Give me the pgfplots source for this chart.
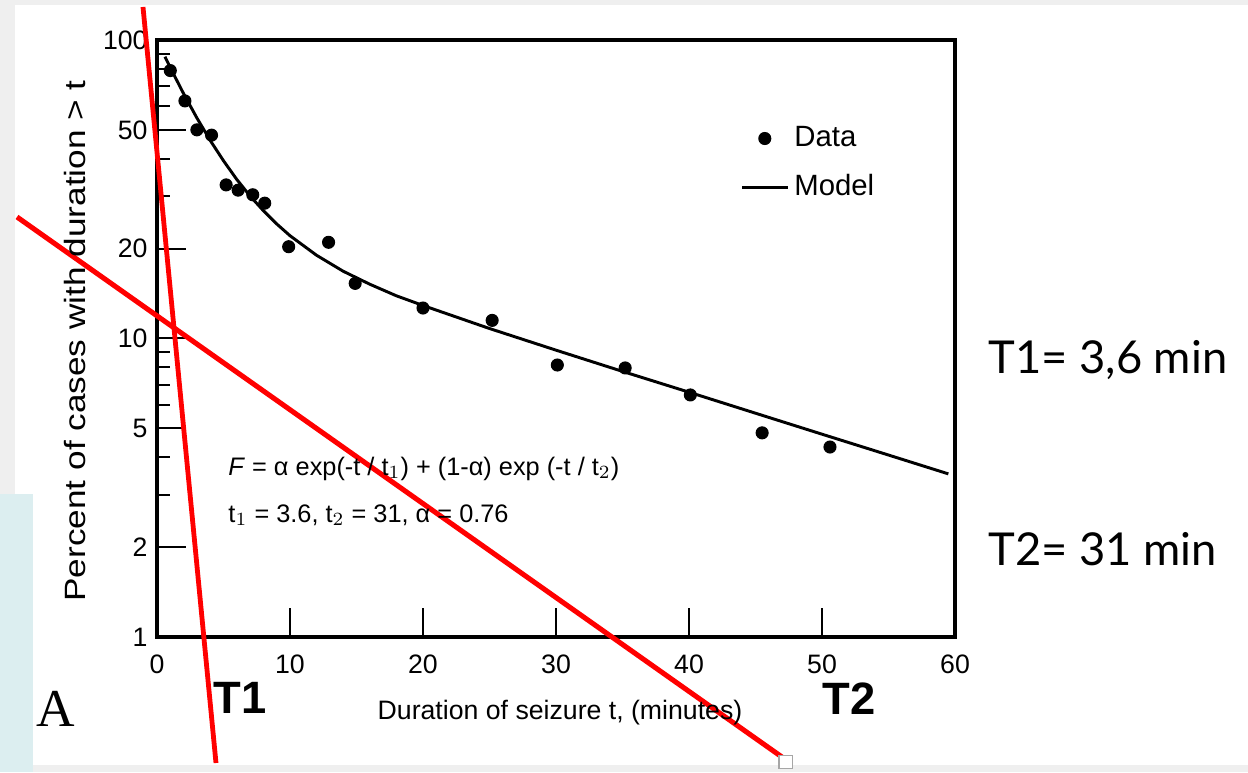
\documentclass[border=0pt]{standalone}
\usepackage{fontspec}
\usepackage{pgfplots}
\pgfplotsset{compat=1.18}
\setmainfont{Liberation Sans}
\newfontfamily\widesans[FakeStretch=1.2]{Liberation Sans}
\newfontfamily\slidefont{Lato}
\newfontfamily\serifA{Liberation Serif}
\definecolor{bgGray}{HTML}{EFEFEF}
\definecolor{bgTeal}{HTML}{DCEEF0}

\begin{document}
\begin{tikzpicture}
% slide background (1 px = 0.375 pt, origin at axis lower-left corner)
\fill[bgGray] (-58.875pt,-50.625pt) rectangle (409.125pt,238.875pt);
\fill[bgTeal] (-58.875pt,-50.625pt) rectangle (-46.5pt,53.6pt);
\fill[white] (-53.25pt,53.6pt) rectangle (409.125pt,237pt);
\fill[white] (-46.5pt,-48pt) rectangle (409.125pt,53.7pt);

\begin{axis}[
    scale only axis,
    width=299.25pt, height=223.875pt,
    xmin=0, xmax=60,
    ymode=log, ymin=1, ymax=100,
    xtick={0,10,20,30,40,50,60},
    ytick={1,2,5,10,20,50,100},
    yticklabels={1,2,5,10,20,50,100},
    minor ytick={3,4,6,7,8,9,30,40,60,70,80,90},
    xtick pos=left, ytick pos=left,
    tick align=inside,
    major tick length=11pt,
    minor tick length=5pt,
    tick style={line width=0.75pt, black},
    axis line style={line width=1.4pt},
    /pgf/number format/assume math mode=true,
    tick label style={font=\fontsize{10}{12}\selectfont},
    xticklabel style={yshift=-3pt},
    xlabel={Duration of seizure t, (minutes)},
    ylabel={Percent of cases with duration > t},
    xlabel style={at={(axis description cs:0.505,-0.127)}, anchor=center,
        font=\fontsize{10}{12}\selectfont},
    ylabel style={at={(axis description cs:-0.1028,0.496)}, anchor=center,
        font=\widesans\fontsize{11}{13}\selectfont},
    clip=false,
    legend style={draw=none, fill=none, at={(axis description cs:0.7206,0.874)},
        anchor=north west, row sep=5pt, font=\fontsize{11}{13}\selectfont},
    legend cell align=left,
]
\addplot[only marks, mark=*, mark size=2.25pt, black] coordinates {
    (1,79) (2.1,62.5) (3,50) (4.1,48) (5.2,32.7) (6.1,31.4) (7.2,30.3)
    (8.1,28.4) (9.9,20.3) (12.9,21.0) (14.9,15.3) (20,12.65) (25.2,11.5)
    (30.1,8.15) (35.2,7.97) (40.1,6.47) (45.5,4.83) (50.6,4.33)
};
\addlegendentry{Data}
\addplot[black, line width=1.1pt] coordinates {
    (0.6,87.9) (1,80.8) (2,66.1) (3,54.8) (4,46.1) (5,39.4) (6,34.1)
    (7,30.0) (8,26.8) (9,24.2) (10,22.1) (12,19.0) (14,16.8) (16,15.2)
    (18,13.9) (20,12.9) (25,10.8) (30,9.14) (35,7.76) (40,6.61)
    (45,5.62) (50,4.78) (55,4.07) (59.5,3.52)
};
\addlegendentry{Model}
% red tangent lines drawn over the scan
\addplot[red, line width=1.8pt, forget plot] coordinates {(-1.053,129.0) (4.436,0.3784)};
\addplot[red, line width=1.9pt, forget plot] coordinates {(-10.526,25.53) (46.99,0.3963)};
\addplot[only marks, mark=square*, mark size=2.6pt, mark options={fill=white, draw=gray!70, line width=0.4pt}, forget plot]
    coordinates {(47.29,0.3814)};
\end{axis}

% equation inside the plot
\node[anchor=base west, font=\fontsize{9.5}{11}\selectfont, inner sep=0pt] at (26.6pt,60.75pt)
    {\textit{F} = α exp(-t / t$_1$) + (1-α) exp (-t / t$_2$)};
\node[anchor=base west, font=\fontsize{9.5}{11}\selectfont, inner sep=0pt] at (26.6pt,43.1pt)
    {t$_1$ = 3.6, t$_2$ = 31, α = 0.76};

% panel letter and marker labels
\node[font=\serifA\fontsize{20}{24}\selectfont] at (-38.1pt,-27pt) {A};
\node[font=\bfseries\fontsize{17}{20}\selectfont] at (31.1pt,-22.9pt) {T1};
\node[font=\bfseries\fontsize{17}{20}\selectfont] at (259.5pt,-23.2pt) {T2};

% values on the right
\node[anchor=base west, inner sep=0pt, font=\slidefont\fontsize{17}{20}\selectfont] at (311.6pt,99pt) {T1= 3,6 min};
\node[anchor=base west, inner sep=0pt, font=\slidefont\fontsize{17}{20}\selectfont] at (311.6pt,27pt) {T2= 31 min};

\pgfresetboundingbox
\useasboundingbox (-58.875pt,-50.625pt) rectangle (409.125pt,238.875pt);
\end{tikzpicture}
\end{document}
